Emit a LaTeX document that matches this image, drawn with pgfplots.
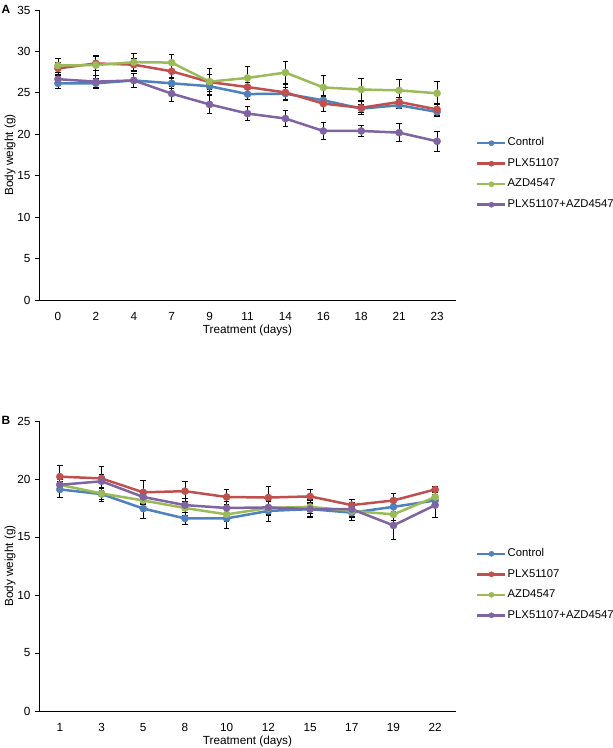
\documentclass[border=0pt]{standalone}
\usepackage{fontspec}
\setmainfont{Liberation Sans}
\usepackage{pgfplots}
\pgfplotsset{compat=1.18}
\definecolor{cBlue}{HTML}{4F81BD}
\definecolor{cRed}{HTML}{C0504D}
\definecolor{cGreen}{HTML}{9BBB59}
\definecolor{cPurple}{HTML}{8064A2}
\pgfplotsset{
  ser/.style={color=#1, line width=2.5bp, mark=*, mark size=3.6bp,
    mark options={fill=#1, line width=0.4bp},
    error bars/.cd, y dir=both, y explicit,
    error bar style={black, line width=0.9bp},
    error mark options={black, rotate=90, mark size=2.8bp, line width=0.9bp}},
  myaxis/.style={
    scale only axis, width=417bp, height=290bp, anchor=south west,
    axis x line*=bottom, axis y line*=left,
    ymin=0, ytick distance=5,
    xtick=data,
    xtick style={draw=none},
    ytick style={black, line width=0.8bp},
    tick align=outside, major tick length=4bp,
    axis line style={black, line width=0.9bp},
    tick label style={font=\fontsize{11.8}{14}\selectfont},
    /pgf/number format/assume math mode=true,
    xticklabel style={yshift=-4.5bp},
    yticklabel style={xshift=-1bp},
    xlabel={Treatment (days)}, ylabel={Body weight (g)},
    every axis x label/.style={at={(axis description cs:0.5,0)}, anchor=center, yshift=-30bp, font=\fontsize{11.8}{14}\selectfont},
    every axis y label/.style={at={(axis description cs:-0.0695,0.5)}, rotate=90, anchor=center, font=\fontsize{11.8}{14}\selectfont},
    legend cell align=left,
    legend image code/.code={\draw[mark repeat=2,mark phase=2,#1, mark size=2.6bp] plot coordinates {(0bp,0bp) (14bp,0bp) (28bp,0bp)};},
    legend style={draw=none, fill=none, inner sep=0pt, row sep=8bp, column sep=0pt,
      font=\fontsize{11.3}{13}\selectfont,
      nodes={inner sep=1bp, text height=8bp, text depth=2.5bp}},
    clip=false,
  }
}
\begin{document}
\begin{tikzpicture}[x=1bp,y=1bp]
\useasboundingbox (0,0) rectangle (613,748);
\node[font=\bfseries\fontsize{12}{14}\selectfont] at (6,739) {A};
\node[font=\bfseries\fontsize{12}{14}\selectfont] at (6,328) {B};
\begin{axis}[myaxis, at={(39bp,448bp)},
  ymax=35, xmin=-0.5, xmax=10.5,
  xticklabels={0,2,4,7,9,11,14,16,18,21,23},
  legend style={at={(1.048,0.4345)}, anchor=west}]
\addplot[ser=cBlue] coordinates {
(0,26.15)+-(0,0.6) (1,26.15)+-(0,0.6) (2,26.5)+-(0,0.8) (3,26.15)+-(0,0.6) (4,25.8)+-(0,0.6) (5,24.85)+-(0,0.6) (6,24.9)+-(0,0.7) (7,24.1)+-(0,0.5) (8,23.1)+-(0,0.5) (9,23.5)+-(0,0.4) (10,22.7)+-(0,0.5)};
\addlegendentry{Control}
\addplot[ser=cRed] coordinates {
(0,27.95)+-(0,0.7) (1,28.55)+-(0,0.9) (2,28.4)+-(0,0.8) (3,27.6)+-(0,0.8) (4,26.3)+-(0,0.9) (5,25.7)+-(0,0.6) (6,25.05)+-(0,1.0) (7,23.7)+-(0,1.0) (8,23.2)+-(0,0.8) (9,23.9)+-(0,0.5) (10,23.0)+-(0,0.7)};
\addlegendentry{PLX51107}
\addplot[ser=cGreen] coordinates {
(0,28.3)+-(0,0.8) (1,28.35)+-(0,1.2) (2,28.7)+-(0,1.0) (3,28.65)+-(0,1.0) (4,26.35)+-(0,1.6) (5,26.8)+-(0,1.4) (6,27.45)+-(0,1.3) (7,25.65)+-(0,1.4) (8,25.4)+-(0,1.3) (9,25.3)+-(0,1.3) (10,24.95)+-(0,1.4)};
\addlegendentry{AZD4547}
\addplot[ser=cPurple] coordinates {
(0,26.65)+-(0,0.5) (1,26.35)+-(0,0.7) (2,26.5)+-(0,0.8) (3,24.9)+-(0,0.9) (4,23.6)+-(0,1.1) (5,22.5)+-(0,0.85) (6,21.9)+-(0,0.95) (7,20.4)+-(0,1.0) (8,20.4)+-(0,0.7) (9,20.2)+-(0,1.1) (10,19.15)+-(0,1.25)};
\addlegendentry{PLX51107+AZD4547}
\end{axis}
\begin{axis}[myaxis, at={(39bp,37bp)},
  ymax=25, xmin=-0.5, xmax=9.5,
  xticklabels={1,3,5,8,10,12,15,17,19,22},
  legend style={at={(1.048,0.436)}, anchor=west}]
\addplot[ser=cBlue] coordinates {
(0,19.1)+-(0,0.7) (1,18.7)+-(0,0.6) (2,17.45)+-(0,0.85) (3,16.6)+-(0,0.55) (4,16.6)+-(0,0.9) (5,17.25)+-(0,0.9) (6,17.4)+-(0,0.75) (7,17.1)+-(0,0.7) (8,17.6)+-(0,0.5) (9,18.15)+-(0,0.5)};
\addlegendentry{Control}
\addplot[ser=cRed] coordinates {
(0,20.2)+-(0,0.95) (1,20.05)+-(0,1.0) (2,18.85)+-(0,1.05) (3,18.95)+-(0,0.85) (4,18.45)+-(0,0.65) (5,18.4)+-(0,1.0) (6,18.5)+-(0,0.6) (7,17.75)+-(0,0.45) (8,18.15)+-(0,0.6) (9,19.1)+-(0,0.3)};
\addlegendentry{PLX51107}
\addplot[ser=cGreen] coordinates {
(0,19.5)+-(0,0.5) (1,18.75)+-(0,0.5) (2,18.15)+-(0,0.6) (3,17.5)+-(0,0.6) (4,16.95)+-(0,0.6) (5,17.5)+-(0,0.6) (6,17.6)+-(0,0.6) (7,17.25)+-(0,0.6) (8,16.95)+-(0,0.5) (9,18.45)+-(0,0.5)};
\addlegendentry{AZD4547}
\addplot[ser=cPurple] coordinates {
(0,19.5)+-(0,0.5) (1,19.8)+-(0,0.6) (2,18.45)+-(0,0.6) (3,17.75)+-(0,0.6) (4,17.5)+-(0,0.6) (5,17.55)+-(0,0.6) (6,17.4)+-(0,0.6) (7,17.4)+-(0,0.6) (8,16.0)+-(0,1.2) (9,17.75)+-(0,1.05)};
\addlegendentry{PLX51107+AZD4547}
\end{axis}
\end{tikzpicture}
\end{document}
